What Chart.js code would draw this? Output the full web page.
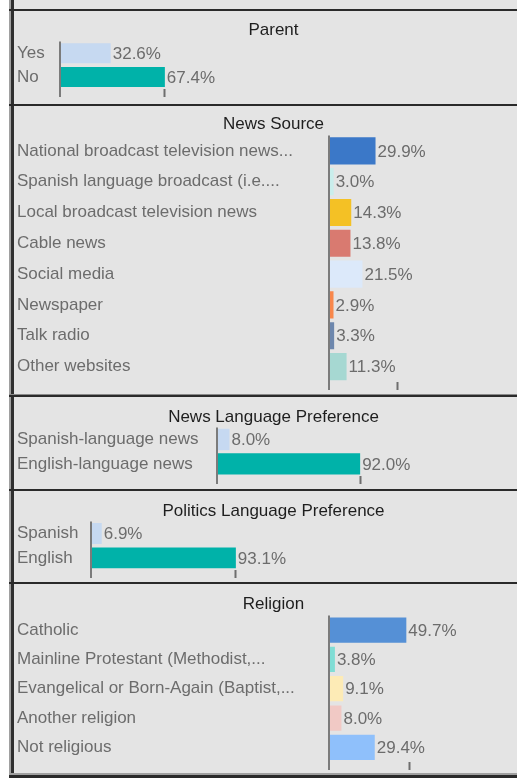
<!DOCTYPE html>
<html>
<head>
<meta charset="utf-8">
<script src="https://cdn.jsdelivr.net/npm/chart.js@4.4.1/dist/chart.umd.min.js"></script>
<style>
  html, body { margin:0; padding:0; background:#ffffff; width:517px; height:778px; overflow:hidden; }
  #bg { position:absolute; left:9px; top:0; width:600px; height:778px; background:#e4e4e4; }
  .vl1 { position:absolute; left:9px; top:0; width:2px; height:778px; background:#a0a0a0; }
  .vl2 { position:absolute; left:11px; top:0; width:3px; height:778px; background:#2f2f2f; }
  .hl { position:absolute; left:9px; width:600px; background:#2a2a2a; }
  .panel { position:absolute; left:14px; width:516px; }
  canvas { display:block; }
</style>
</head>
<body>
<div id="bg"></div>
<div class="vl1"></div>
<div class="vl2"></div>
<div class="hl" style="top:9px;height:2px;"></div>
<div class="hl" style="top:104px;height:2px;"></div>
<div class="hl" style="top:394px;height:3px;background:#8a8a8a;"></div>
<div class="hl" style="top:395px;height:1.5px;"></div>
<div class="hl" style="top:489px;height:2px;"></div>
<div class="hl" style="top:582px;height:2px;"></div>
<div class="hl" style="top:773px;height:2px;background:#a0a0a0;"></div>
<div class="hl" style="top:775px;height:3px;"></div>

<div class="panel" style="top:11px;"><canvas id="c1"></canvas></div>
<div class="panel" style="top:106px;"><canvas id="c2"></canvas></div>
<div class="panel" style="top:397px;"><canvas id="c3"></canvas></div>
<div class="panel" style="top:491px;"><canvas id="c4"></canvas></div>
<div class="panel" style="top:584px;"><canvas id="c5"></canvas></div>

<script>
// ---------------- DATA ----------------
const panelTitles = ['Parent', 'News Source', 'News Language Preference', 'Politics Language Preference', 'Religion'];

const parentLabels = ['Yes', 'No'];
const parentValues = [32.6, 67.4];

const newsSourceLabels = [
  'National broadcast television news...',
  'Spanish language broadcast (i.e....',
  'Local broadcast television news',
  'Cable news',
  'Social media',
  'Newspaper',
  'Talk radio',
  'Other websites'
];
const newsSourceValues = [29.9, 3.0, 14.3, 13.8, 21.5, 2.9, 3.3, 11.3];

const newsLangLabels = ['Spanish-language news', 'English-language news'];
const newsLangValues = [8.0, 92.0];

const politicsLangLabels = ['Spanish', 'English'];
const politicsLangValues = [6.9, 93.1];

const religionLabels = [
  'Catholic',
  'Mainline Protestant (Methodist,...',
  'Evangelical or Born-Again (Baptist,...',
  'Another religion',
  'Not religious'
];
const religionValues = [49.7, 3.8, 9.1, 8.0, 29.4];

// single x-axis tick mark shown under each panel (percent)
const axisTickValues = [67.4, 44, 92, 93.1, 52];

// ---------------- STYLES ----------------
const parentColors = ['#c6d9f1', '#00b2a9'];
const newsSourceColors = ['#3b78c8', '#c9eeec', '#f4c125', '#d97a70', '#dce9fa', '#f8874b', '#6d87ad', '#a6d8d2'];
const newsLangColors = ['#c6d9f1', '#00b2a9'];
const politicsLangColors = ['#c6d9f1', '#00b2a9'];
const religionColors = ['#5590d6', '#80ddd5', '#fdebb6', '#f1c9c5', '#8fc0fb'];

const FONT_FAMILY = "'Liberation Sans', Arial, sans-serif";
const FONT_SIZE = 17;
const TEXT_GREY = '#6c6c6c';
const PX_PER_PCT = 1.556;
const CANVAS_W = 516;
const TICK_LEN = 8;
const BOTTOM_PAD = 4;

Chart.defaults.font.family = FONT_FAMILY;
Chart.defaults.font.size = FONT_SIZE;
Chart.defaults.color = TEXT_GREY;

const valueLabelPlugin = {
  id: 'valueLabels',
  afterDatasetsDraw(chart) {
    const ctx = chart.ctx;
    const meta = chart.getDatasetMeta(0);
    const data = chart.data.datasets[0].data;
    ctx.save();
    ctx.font = FONT_SIZE + 'px ' + FONT_FAMILY;
    ctx.fillStyle = TEXT_GREY;
    ctx.textAlign = 'left';
    ctx.textBaseline = 'middle';
    meta.data.forEach((bar, i) => {
      ctx.fillText(data[i].toFixed(1) + '%', bar.x + 2, bar.y + 1);
    });
    ctx.restore();
  }
};

const axisLinePlugin = {
  id: 'axisLine',
  afterDatasetsDraw(chart) {
    const {ctx, chartArea, scales} = chart;
    ctx.save();
    ctx.strokeStyle = '#7b7b7b';
    ctx.lineWidth = 2;
    ctx.beginPath();
    ctx.moveTo(chartArea.left, chartArea.top);
    ctx.lineTo(chartArea.left, scales.x.bottom);
    ctx.stroke();
    ctx.restore();
  }
};

const panels = [
  {id: 'c1', labels: parentLabels, values: parentValues, colors: parentColors, axisX: 60, pitch: 24, padTop: 9.5, padBottom: 0.5, barPct: 0.84},
  {id: 'c2', labels: newsSourceLabels, values: newsSourceValues, colors: newsSourceColors, axisX: 329, pitch: 30.8, padTop: 8.5, padBottom: 0.5, barPct: 0.88},
  {id: 'c3', labels: newsLangLabels, values: newsLangValues, colors: newsLangColors, axisX: 217, pitch: 24.5, padTop: 10.5, padBottom: -0.5, barPct: 0.88},
  {id: 'c4', labels: politicsLangLabels, values: politicsLangValues, colors: politicsLangColors, axisX: 91, pitch: 24.5, padTop: 10.5, padBottom: -0.5, barPct: 0.86},
  {id: 'c5', labels: religionLabels, values: religionValues, colors: religionColors, axisX: 329, pitch: 29.4, padTop: 10.5, padBottom: 0.5, barPct: 0.86}
];

panels.forEach((p, idx) => {
  const canvas = document.getElementById(p.id);
  const titleH = p.padTop + FONT_SIZE * 1.2 + p.padBottom;
  const H = Math.round(titleH + p.labels.length * p.pitch + TICK_LEN + BOTTOM_PAD);
  canvas.width = CANVAS_W;
  canvas.height = H;
  canvas.style.width = CANVAS_W + 'px';
  canvas.style.height = H + 'px';
  const leftPad = 3;
  const axisCanvasX = p.axisX - 14;
  const xMax = (CANVAS_W - axisCanvasX) / PX_PER_PCT;
  const tickVal = axisTickValues[idx];

  new Chart(canvas, {
    type: 'bar',
    data: {
      labels: p.labels,
      datasets: [{
        data: p.values,
        backgroundColor: p.colors,
        borderWidth: 0,
        barPercentage: p.barPct,
        categoryPercentage: 1.0
      }]
    },
    options: {
      indexAxis: 'y',
      responsive: false,
      animation: false,
      devicePixelRatio: 1,
      layout: { padding: { left: leftPad, right: 0, top: 0, bottom: BOTTOM_PAD } },
      plugins: {
        legend: { display: false },
        tooltip: { enabled: false },
        title: {
          display: true,
          text: panelTitles[idx],
          color: '#1e1e1e',
          font: { size: FONT_SIZE, weight: 'normal', lineHeight: 1.2 },
          padding: { top: p.padTop, bottom: p.padBottom }
        }
      },
      scales: {
        y: {
          type: 'category',
          offset: true,
          grid: { display: false },
          border: { display: false },
          ticks: { crossAlign: 'far', padding: 0, color: TEXT_GREY, autoSkip: false },
          afterFit(scale) {
            scale.width = axisCanvasX - leftPad;
            scale.paddingTop = 0;
            scale.paddingBottom = 0;
          }
        },
        x: {
          type: 'linear',
          min: 0,
          max: xMax,
          border: { display: false },
          grid: {
            display: true,
            drawOnChartArea: false,
            drawTicks: true,
            tickLength: TICK_LEN,
            tickWidth: 2,
            tickColor: '#6e6e6e'
          },
          ticks: { display: false },
          afterBuildTicks(scale) {
            scale.ticks = [{ value: tickVal }];
          }
        }
      }
    },
    plugins: [valueLabelPlugin, axisLinePlugin]
  });
});
</script>
</body>
</html>
